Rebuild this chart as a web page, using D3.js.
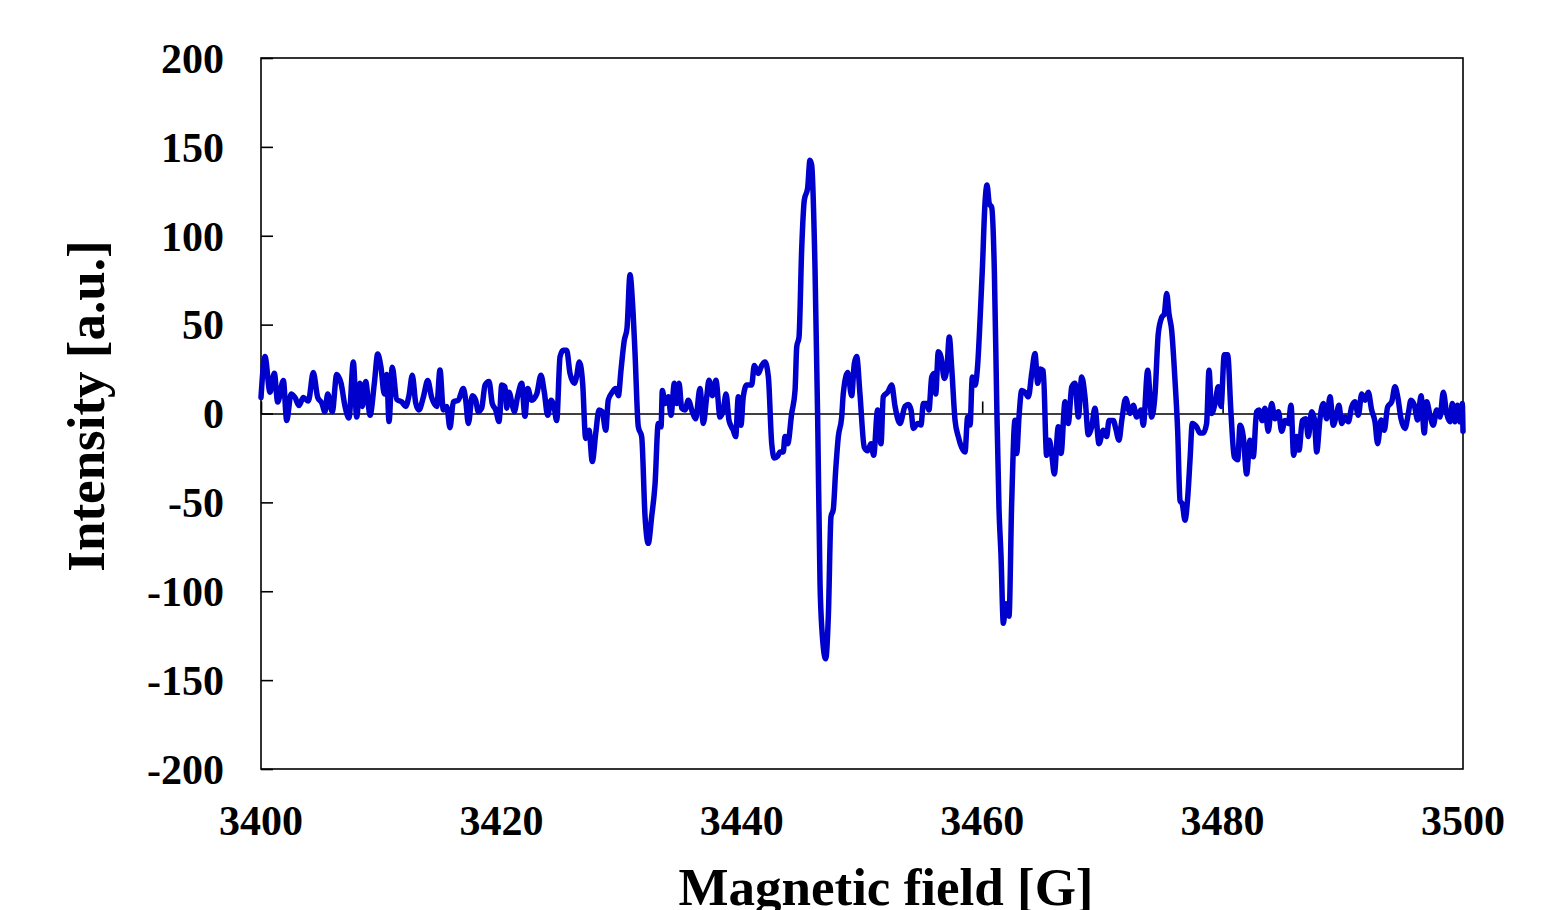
<!DOCTYPE html>
<html>
<head>
<meta charset="utf-8">
<script src="https://cdn.jsdelivr.net/npm/d3@7"></script>
<style>
  html, body { margin: 0; padding: 0; background: #fff; }
  svg { display: block; }
  text { font-family: "Liberation Serif", "Times New Roman", serif; font-weight: bold; fill: #000; }
</style>
</head>
<body>
<svg id="chart" width="1563" height="910"></svg>
<script>
// Tick values
const xTicks = [3400, 3420, 3440, 3460, 3480, 3500];
const yTicks = [-200, -150, -100, -50, 0, 50, 100, 150, 200];

// Magnetic field offsets from 3400 G
const fieldOffset = [
  0.00,0.33,0.75,1.11,1.39,1.86,2.14,2.50,2.83,3.16,3.52,3.94,4.35,4.72,5.05,5.32,5.55,5.93,6.30,6.66,
  6.99,7.32,7.68,7.96,8.24,8.43,8.71,9.07,9.43,9.71,9.98,10.26,10.46,10.65,10.92,11.29,11.71,12.04,12.31,12.59,
  12.87,13.14,13.50,13.87,14.20,14.62,14.89,15.17,15.45,15.72,16.00,16.41,16.83,17.03,17.25,17.58,17.86,18.08,18.36,18.64,
  18.97,19.24,19.53,19.80,20.03,20.30,20.44,20.63,20.91,21.07,21.36,21.69,21.96,22.19,22.52,22.94,23.29,23.57,23.85,24.13,
  24.40,24.60,24.88,25.15,25.43,25.71,26.07,26.26,26.48,26.76,27.01,27.29,27.56,27.85,28.12,28.39,28.68,28.89,29.23,29.51,
  29.73,29.95,30.22,30.45,30.70,30.91,31.11,31.39,31.67,31.95,32.22,32.50,32.78,33.05,33.28,33.39,33.61,33.89,34.11,34.39,
  34.59,34.78,35.00,35.27,35.55,35.88,36.16,36.52,36.80,37.08,37.27,37.55,37.85,38.19,38.46,38.69,38.94,39.29,39.49,39.71,
  39.93,40.12,40.41,40.82,41.04,41.37,41.66,41.93,42.21,42.49,42.71,42.99,43.18,43.45,43.59,43.82,44.15,44.43,44.57,44.76,
  44.98,45.20,45.48,45.67,45.81,46.09,46.31,46.51,46.65,46.98,47.20,47.42,47.61,47.81,48.03,48.31,48.44,48.81,49.14,49.36,
  49.56,49.83,50.19,50.47,50.75,50.97,51.30,51.58,51.77,52.14,52.47,52.75,53.16,53.58,53.85,54.08,54.27,54.63,54.91,55.10,
  55.38,55.57,55.80,56.01,56.13,56.35,56.57,56.85,57.07,57.26,57.46,57.74,58.01,58.29,58.57,58.79,58.99,59.18,59.40,59.63,
  59.82,60.01,60.23,60.40,60.59,60.79,61.01,61.21,61.40,61.56,61.76,61.96,62.23,62.45,62.73,62.87,63.06,63.29,63.56,63.84,
  64.12,64.39,64.62,64.83,65.08,65.36,65.58,65.78,66.00,66.33,66.56,66.89,67.16,67.45,67.72,68.00,68.28,68.55,68.83,69.11,
  69.38,69.72,70.07,70.35,70.55,70.91,71.11,71.38,71.61,71.94,72.30,72.57,72.85,73.21,73.40,73.77,74.10,74.38,74.65,74.93,
  75.15,75.35,75.54,75.76,76.04,76.26,76.46,76.65,76.87,77.10,77.29,77.48,77.84,78.12,78.39,78.67,78.87,79.09,79.37,79.64,
  79.87,80.14,80.42,80.70,80.97,81.26,81.45,81.72,82.00,82.28,82.55,82.83,83.03,83.30,83.53,83.80,84.08,84.36,84.64,84.92,
  85.19,85.47,85.69,85.91,86.16,86.36,86.63,86.91,87.13,87.41,87.63,87.83,88.10,88.38,88.66,88.94,89.21,89.49,89.68,89.91,
  90.18,90.46,90.74,91.01,91.29,91.57,91.85,92.12,92.40,92.68,92.90,93.18,93.45,93.73,94.07,94.34,94.57,94.84,95.17,95.45,
  95.67,95.95,96.23,96.51,96.78,96.98,97.25,97.53,97.81,98.09,98.36,98.64,98.92,99.11,99.33,99.53,99.75,99.94,100.00
];

// Intensity [a.u.]
const intensity = [
  9,32,12,22.7,6.4,18.6,-4,11,9,4.5,9,7,23,9,6,1,11,1,22,17,
  4,-2.5,29,-2,17,4,18,-1,17,33.5,26,11,22,-4.5,26,8,6.5,4,10,21.5,
  6,2,9,18.5,9,4,24.5,2,4,-8,6.5,7.5,14,7.5,-5.6,10,7.5,1,3,16,
  18,5.6,2,-4.5,16,15,3,12,4.7,1,10,17,-1.5,14,7.5,11,21.5,12,-1,7.5,
  3,-4,32,35.6,35.6,22.5,17,21,29,17,-14,-9.4,-27,-11,2,1,-9.4,7.5,12,14,
  10,24.4,41,48,78,62,35,-7.5,-13,-58,-73,-58,-40,-5.6,-7.5,13,5.6,9.4,-1,17,
  5.6,17,3,2,7.5,1,-3,14,-5.6,9.4,18.7,10,18.7,-2,2,11,-4,-9.4,-13,9.4,
  -6.6,9.4,16,16,27,22.5,27,29,20.6,-17,-25,-24,-21.6,-21.6,-13,-17,0,13,37.5,43,
  92,120,127,142.5,140,82,-2,-96,-120,-138,-114,-58,-54,-32,-13,-2,11,23,10,28,
  32,11,-19,-21,-17,-23.5,2,-17,9.4,12,16,4,-5.6,4,5,2,-8.4,-5.6,-6.5,5.6,
  5.6,2,20.6,22.5,11,34.7,32,19.7,26,43,26,-3.8,-13,-19,-21.6,-2,-6.5,20.6,16,28,
  52.5,80.6,118,128.5,118,116,80.6,5.6,-54,-79,-118,-107,-114,-51,-3.8,-22.5,-2,13,12,9.4,
  22.5,33.7,17,25,24,-23.5,-15,-22.5,-34,-7.5,-22.5,6.6,-5.6,15,17,-2,20.6,9.4,-12,-7.5,
  3,-17,-9.4,-13,-4,-4,-8.4,-15,-4,8.4,0,4.7,-2,2,-6.6,24.4,-2,11,45,54,
  56,67.5,56,47,18.7,-9.4,-49,-51,-60,-47,-26,-5.6,-7.5,-11,-11,-5.6,24.4,0,5.6,15,
  4,33,33,0,-24.4,-26,-6.6,-13,-34,-15,-24.4,1,2,-4,3,-10,5.6,-3,1,-10,
  -4,-5.6,4.7,-23.5,-13,-20.6,-4,-3,-13,1,-3,-21.6,-3,5.6,-3,9.4,-6.6,0,4.7,-5.6,
  -2,-4.7,3.7,6.6,-1,11,7.5,12,2,-4.7,-17,-3.7,-9.4,3.7,6.6,15,9.4,-2.8,-8.4,0,
  7.5,4.7,-3.7,10,-11,6.6,-1,-6.6,2,-2,12,0,-4.7,5.6,-4.7,4.7,-4.7,5.6,-10
];

const baseField = 3400;
const xLabel = "Magnetic field [G]";
const yLabel = "Intensity [a.u.]";

(function () {
  const data = fieldOffset.map((d, i) => ({ x: baseField + d, y: intensity[i] }));

  const svg = d3.select("#chart");
  const pL = 261, pR = 1463, pT = 58, pB = 769;

  const x = d3.scaleLinear().domain([3400, 3500]).range([pL, pR]);
  const y = d3.scaleLinear().domain([-200, 200]).range([pB, pT]);

  // Frame
  svg.append("rect")
    .attr("x", pL).attr("y", pT)
    .attr("width", pR - pL).attr("height", pB - pT)
    .attr("fill", "none").attr("stroke", "#000").attr("stroke-width", 1.6);

  // Y axis ticks (inward) and labels (hyphen minus as in the reference)
  const yAxis = d3.axisLeft(y).tickValues(yTicks).tickSizeInner(-12).tickSizeOuter(0)
    .tickFormat(d => String(d));
  const gy = svg.append("g").attr("transform", `translate(${pL},0)`).call(yAxis);
  gy.select(".domain").remove();
  gy.selectAll(".tick line").attr("stroke", "#000").attr("stroke-width", 1.6);
  gy.selectAll(".tick text")
    .attr("x", -37).attr("dy", "0.34em")
    .attr("fill", "#000")
    .style("font-family", '"Liberation Serif", serif')
    .style("font-weight", "bold").style("font-size", "42px");

  // X axis along zero line, ticks upward
  const xAxis = d3.axisBottom(x).tickValues(xTicks).tickSizeInner(-12).tickSizeOuter(0)
    .tickFormat("");
  const gx = svg.append("g").attr("transform", `translate(0,${y(0)})`).call(xAxis);
  gx.select(".domain").attr("stroke", "#000").attr("stroke-width", 1.6);
  gx.selectAll(".tick line").attr("stroke", "#000").attr("stroke-width", 1.6);

  // X tick labels at bottom
  svg.append("g").selectAll("text").data(xTicks).join("text")
    .attr("x", d => x(d)).attr("y", 835)
    .attr("text-anchor", "middle")
    .style("font-size", "42px")
    .text(d => d);

  // Data line
  const line = d3.line().x(d => x(d.x)).y(d => y(d.y)).curve(d3.curveMonotoneX);
  svg.append("path").datum(data)
    .attr("d", line)
    .attr("fill", "none")
    .attr("stroke", "#0000CC")
    .attr("stroke-width", 5.5)
    .attr("stroke-linejoin", "round")
    .attr("stroke-linecap", "round");

  // Axis titles
  svg.append("text")
    .attr("x", 886).attr("y", 905)
    .attr("text-anchor", "middle")
    .style("font-size", "53px")
    .text(xLabel);

  svg.append("text")
    .attr("transform", `translate(104,406) rotate(-90)`)
    .attr("text-anchor", "middle")
    .style("font-size", "53px")
    .text(yLabel);
})();
</script>
</body>
</html>
